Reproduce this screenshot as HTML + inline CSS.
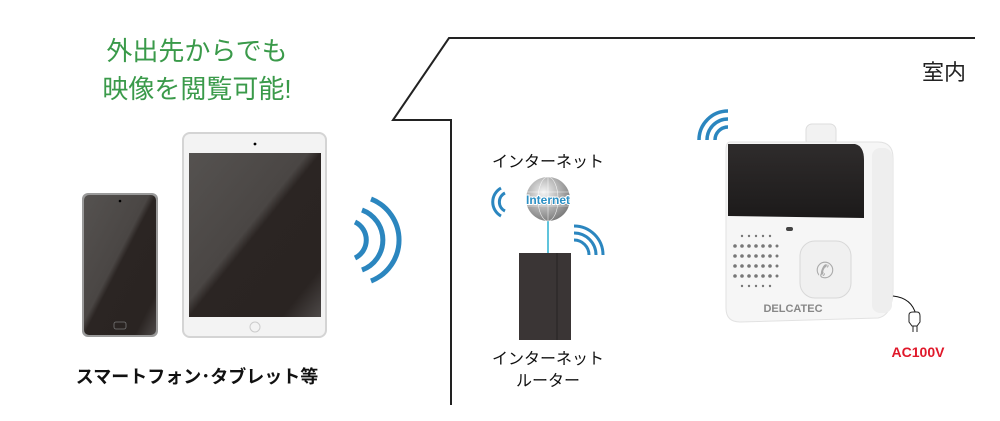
<!DOCTYPE html>
<html><head><meta charset="utf-8"><style>
body{margin:0;background:#fff;width:1000px;height:421px;overflow:hidden}
svg{display:block}
text{font-family:"Liberation Sans","Noto Sans CJK JP",sans-serif}
</style></head><body>
<svg width="1000" height="421" viewBox="0 0 1000 421">
<defs>
<linearGradient id="scr" x1="0" y1="0" x2="1" y2="1">
<stop offset="0" stop-color="#555250"/><stop offset="0.45" stop-color="#4a4644"/><stop offset="0.5" stop-color="#2b2523"/><stop offset="0.85" stop-color="#2a2422"/><stop offset="1" stop-color="#4d4948"/>
</linearGradient>
<radialGradient id="glb" cx="0.4" cy="0.35" r="0.7">
<stop offset="0" stop-color="#f4f4f4"/><stop offset="0.6" stop-color="#a9a9a9"/><stop offset="1" stop-color="#777"/>
</radialGradient>
<linearGradient id="pan" x1="0" y1="0" x2="0" y2="1"><stop offset="0" stop-color="#2f2c2c"/><stop offset="1" stop-color="#1c1a1a"/></linearGradient>
</defs>
<polyline points="975,38 449,38 393,120 451,120 451,405" fill="none" stroke="#222" stroke-width="2"/>
<text x="197" y="60" font-size="26" fill="#3a9a4a" text-anchor="middle">外出先からでも</text>
<text x="197" y="98" font-size="26" fill="#3a9a4a" text-anchor="middle">映像を閲覧可能!</text>
<text x="944" y="80" font-size="22" fill="#222" text-anchor="middle">室内</text>
<rect x="82" y="193" width="76" height="144" rx="6" fill="#9a9a9a"/>
<rect x="84" y="195" width="72" height="140" rx="5" fill="url(#scr)"/>
<circle cx="120" cy="201" r="1.3" fill="#000"/>
<rect x="114" y="322" width="12" height="7" rx="2" fill="none" stroke="#777" stroke-width="0.8"/>
<rect x="183" y="133" width="143" height="204" rx="7" fill="#f3f3f3" stroke="#d4d4d4" stroke-width="2"/>
<rect x="189" y="153" width="132" height="164" fill="url(#scr)"/>
<circle cx="255" cy="144" r="1.4" fill="#000"/>
<circle cx="255" cy="327" r="5" fill="none" stroke="#ccc" stroke-width="1"/>
<text x="197" y="383" font-size="18" fill="#111" text-anchor="middle" font-weight="bold">スマートフォン･タブレット等</text>
<g fill="none" stroke="#2b86bf" stroke-width="5">
<path d="M355,222 A20,20 0 0 1 355,258"/>
<path d="M362,210 A32,32 0 0 1 362,270"/>
<path d="M371,199 A44,44 0 0 1 371,281"/>
</g>
<text x="548" y="167" font-size="16" fill="#111" text-anchor="middle">インターネット</text>
<line x1="548" y1="220" x2="548" y2="255" stroke="#2ab0d0" stroke-width="1.5"/>
<circle cx="548" cy="199" r="22" fill="url(#glb)"/>
<g stroke="#fff" stroke-width="0.6" fill="none" opacity="0.8">
<ellipse cx="548" cy="199" rx="10" ry="22"/><line x1="548" y1="177" x2="548" y2="221"/>
<line x1="527" y1="192" x2="569" y2="192"/><line x1="527" y1="206" x2="569" y2="206"/>
</g>
<text x="548" y="204" font-size="12" fill="#2a8fc4" text-anchor="middle" font-weight="bold" stroke="#fff" stroke-width="2" paint-order="stroke">Internet</text>
<g fill="none" stroke="#2b86bf" stroke-width="3">
<path d="M505,193 A10,10 0 0 0 505,211"/><path d="M501,188 A16,16 0 0 0 501,216"/>
<path d="M574,240 A15,15 0 0 1 589,255"/><path d="M574,233 A22,22 0 0 1 596,255"/><path d="M574,226 A29,29 0 0 1 603,255"/>
</g>
<rect x="519" y="253" width="52" height="87" fill="#3a3535"/>
<line x1="557" y1="253" x2="557" y2="340" stroke="#262222" stroke-width="1"/>
<text x="548" y="364" font-size="16" fill="#111" text-anchor="middle">インターネット</text>
<text x="548" y="386" font-size="16" fill="#111" text-anchor="middle">ルーター</text>
<g fill="none" stroke="#2b86bf" stroke-width="3.5">
<path d="M715,140 A13,13 0 0 1 728,127"/><path d="M707,140 A21,21 0 0 1 728,119"/><path d="M699,140 A29,29 0 0 1 728,111"/>
</g>
<rect x="806" y="124" width="30" height="22" rx="6" fill="#f2f2f2" stroke="#ddd"/>
<path d="M730,142 L878,142 Q893,142 893,158 L893,288 Q893,315 878,318 L740,322 Q726,322 726,308 L726,150 Q726,142 730,142 Z" fill="#f6f6f6" stroke="#e2e2e2"/>
<rect x="872" y="148" width="20" height="165" rx="8" fill="#eeeeee"/>
<path d="M728,144 L855,144 Q864,146 864,160 L864,218 L728,216 Z" fill="url(#pan)"/>
<rect x="786" y="227" width="7" height="4" rx="2" fill="#444"/>
<g fill="#777">
<circle cx="742" cy="236" r="1.2"/><circle cx="749" cy="236" r="1.2"/><circle cx="756" cy="236" r="1.2"/><circle cx="763" cy="236" r="1.2"/><circle cx="770" cy="236" r="1.2"/>
<circle cx="735" cy="246" r="1.8"/><circle cx="742" cy="246" r="1.8"/><circle cx="749" cy="246" r="1.8"/><circle cx="756" cy="246" r="1.8"/><circle cx="763" cy="246" r="1.8"/><circle cx="770" cy="246" r="1.8"/><circle cx="777" cy="246" r="1.5"/>
<circle cx="735" cy="256" r="1.8"/><circle cx="742" cy="256" r="1.8"/><circle cx="749" cy="256" r="1.8"/><circle cx="756" cy="256" r="1.8"/><circle cx="763" cy="256" r="1.8"/><circle cx="770" cy="256" r="1.8"/><circle cx="777" cy="256" r="1.5"/>
<circle cx="735" cy="266" r="1.8"/><circle cx="742" cy="266" r="1.8"/><circle cx="749" cy="266" r="1.8"/><circle cx="756" cy="266" r="1.8"/><circle cx="763" cy="266" r="1.8"/><circle cx="770" cy="266" r="1.8"/><circle cx="777" cy="266" r="1.5"/>
<circle cx="735" cy="276" r="1.8"/><circle cx="742" cy="276" r="1.8"/><circle cx="749" cy="276" r="1.8"/><circle cx="756" cy="276" r="1.8"/><circle cx="763" cy="276" r="1.8"/><circle cx="770" cy="276" r="1.8"/><circle cx="777" cy="276" r="1.5"/>
<circle cx="742" cy="286" r="1.2"/><circle cx="749" cy="286" r="1.2"/><circle cx="756" cy="286" r="1.2"/><circle cx="763" cy="286" r="1.2"/><circle cx="770" cy="286" r="1.2"/>
</g>
<rect x="800" y="241" width="51" height="57" rx="15" fill="#f0f0f0" stroke="#d8d8d8"/>
<text x="825" y="278" font-size="22" fill="#aaa" text-anchor="middle">✆</text>
<text x="793" y="312" font-size="11" fill="#888" text-anchor="middle" font-weight="bold">DELCATEC</text>
<path d="M893,296 Q912,298 916,315" fill="none" stroke="#111" stroke-width="1"/>
<path d="M909,322 L909,315 Q909,312 913,312 L917,312 Q920,312 920,316 L920,322 L917,326 L912,326 Z" fill="#fff" stroke="#222" stroke-width="1"/>
<line x1="913" y1="326" x2="913" y2="332" stroke="#222"/><line x1="917" y1="326" x2="917" y2="332" stroke="#222"/>
<text x="918" y="357" font-size="14" fill="#e0182a" text-anchor="middle" font-weight="bold">AC100V</text>
</svg>
</body></html>
